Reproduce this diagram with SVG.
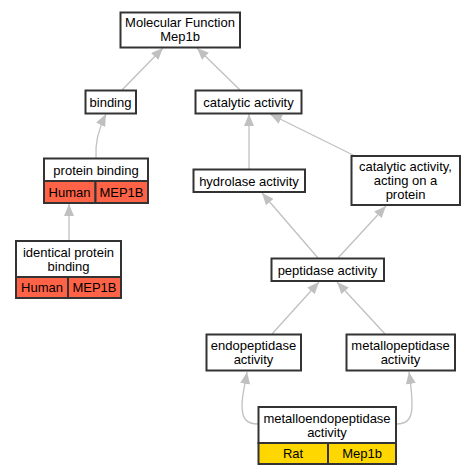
<svg xmlns="http://www.w3.org/2000/svg" width="475" height="475" viewBox="0 0 475 475">
<defs>
<marker id="ah" markerUnits="userSpaceOnUse" markerWidth="13" markerHeight="10" refX="12" refY="5" orient="auto">
<path d="M0,0 L12,5 L0,10 z" fill="#c0c0c0"/>
</marker>
<style>
.box{fill:#fff;stroke:#333;stroke-width:2}
.red{fill:#ff6347;stroke:#333;stroke-width:2}
.yel{fill:#ffd700;stroke:#333;stroke-width:2}
.e{fill:none;stroke:#c0c0c0;stroke-width:1.3;marker-end:url(#ah)}
text{font-family:"Liberation Sans",Arial,sans-serif;font-size:13px;fill:#000;text-anchor:middle}
</style>
</defs>
<rect width="475" height="475" fill="#fff"/>
<g id="edges">
<path class="e" d="M122,90 L163,48"/>
<path class="e" d="M240,90 L197,48"/>
<path class="e" d="M96,158 C95,145 99,128 106,114"/>
<path class="e" d="M69,241 L69,204"/>
<path class="e" d="M249,169 L249,114"/>
<path class="e" d="M355,156 L270,114"/>
<path class="e" d="M318,258 L262,193"/>
<path class="e" d="M338,258 L386,206"/>
<path class="e" d="M272,334 L319,282"/>
<path class="e" d="M385,334 L337,282"/>
<path class="e" d="M258,424 C245,424 242,417 242,405 C242,395 245,385 247,372"/>
<path class="e" d="M396,424 C409,424 412,417 412,405 C412,395 411,385 409,372"/>
</g>
<g id="mf">
<rect class="box" x="120.5" y="12.5" width="119.5" height="35"/>
<text x="180" y="27">Molecular Function</text>
<text x="180" y="41">Mep1b</text>
</g>
<g id="binding">
<rect class="box" x="85.5" y="90.5" width="50.5" height="23"/>
<text x="110.5" y="106.5">binding</text>
</g>
<g id="catalytic">
<rect class="box" x="195.5" y="90.5" width="106" height="23"/>
<text x="248.5" y="106.5">catalytic activity</text>
</g>
<g id="proteinbinding">
<rect class="box" x="44" y="158.5" width="104" height="22.5"/>
<rect class="red" x="44" y="181" width="51.5" height="22"/>
<rect class="red" x="95.5" y="181" width="52.5" height="22"/>
<text x="96" y="174.5">protein binding</text>
<text x="69.5" y="196.5">Human</text>
<text x="121.5" y="196.5">MEP1B</text>
</g>
<g id="identical">
<rect class="box" x="16" y="241" width="105" height="36"/>
<rect class="red" x="16" y="277" width="52" height="21"/>
<rect class="red" x="68" y="277" width="53" height="21"/>
<text x="68.5" y="256.5">identical protein</text>
<text x="68.5" y="270.5">binding</text>
<text x="42" y="292">Human</text>
<text x="94.5" y="292">MEP1B</text>
</g>
<g id="hydrolase">
<rect class="box" x="193.5" y="169.5" width="111.5" height="22.5"/>
<text x="249" y="185.5">hydrolase activity</text>
</g>
<g id="catprot">
<rect class="box" x="351.5" y="156" width="108.5" height="49"/>
<text x="405.5" y="171">catalytic activity,</text>
<text x="405.5" y="185">acting on a</text>
<text x="405.5" y="199">protein</text>
</g>
<g id="peptidase">
<rect class="box" x="271.5" y="258.5" width="112.5" height="22.5"/>
<text x="327.5" y="274.5">peptidase activity</text>
</g>
<g id="endo">
<rect class="box" x="206.5" y="334.5" width="94.5" height="36"/>
<text x="253.5" y="349.5">endopeptidase</text>
<text x="253.5" y="363.5">activity</text>
</g>
<g id="metallo">
<rect class="box" x="346.5" y="334.5" width="108.5" height="36"/>
<text x="400.5" y="349.5">metallopeptidase</text>
<text x="400.5" y="363.5">activity</text>
</g>
<g id="metalloendo">
<rect class="box" x="258.5" y="407" width="137.5" height="36"/>
<rect class="yel" x="258.5" y="443" width="69.5" height="21"/>
<rect class="yel" x="328" y="443" width="68" height="21"/>
<text x="327" y="422.5">metalloendopeptidase</text>
<text x="327" y="436.5">activity</text>
<text x="293" y="458">Rat</text>
<text x="362" y="458">Mep1b</text>
</g>
</svg>
